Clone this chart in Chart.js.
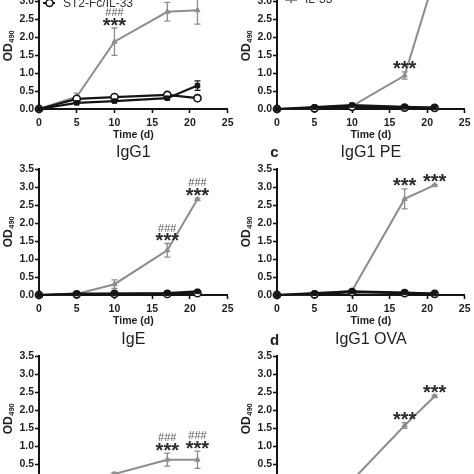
<!DOCTYPE html>
<html><head><meta charset="utf-8">
<script src="https://cdn.jsdelivr.net/npm/chart.js@4.4.1/dist/chart.umd.min.js"></script>
<style>
html,body{margin:0;padding:0;background:#fff;width:474px;height:474px;overflow:hidden;position:relative}
canvas{position:absolute}
</style></head><body>
<script>
// ---------- data ----------
const days = [0, 5, 10, 17, 21];
const xTickValues = [0, 5, 10, 15, 20, 25];
const yTickValues = [0, 0.5, 1, 1.5, 2, 2.5, 3, 3.5];
const xAxisTitle = 'Time (d)';
const yAxisMain = 'OD';
const yAxisSub = '490';
const legendST2 = 'ST2-Fc/IL-33';
const legendIL33 = 'IL-33';

// panel a (top left)
const aIL33 = [0, 0.34, 1.87, 2.70, 2.74];
const aIL33Err = [0, 0.10, 0.38, 0.26, 0.38];
const aCtrl = [0, 0.17, 0.22, 0.30, 0.65];
const aCtrlErr = [0, 0.02, 0.02, 0.03, 0.13];
const aST2 = [0, 0.28, 0.33, 0.39, 0.30];
const aST2Err = [0, 0.03, 0.03, 0.05, 0.02];
// panel b (top right)
const bIL33 = [0, 0.03, 0.08, 0.93, 3.65];
const bIL33Err = [0, 0.01, 0.02, 0.10, 0];
const bCtrl = [0, 0.05, 0.11, 0.06, 0.04];
const bST2 = [0, 0.02, 0.06, 0.04, 0.03];
// IgG1
const g1IL33 = [0, 0.03, 0.30, 1.24, 2.66];
const g1IL33Err = [0, 0.01, 0.12, 0.19, 0.03];
const g1Ctrl = [0, 0.04, 0.04, 0.05, 0.10];
const g1ST2 = [0, 0.02, 0.03, 0.03, 0.05];
// IgG1 PE
const pIL33 = [0, 0.02, 0.12, 2.67, 3.05];
const pIL33Err = [0, 0.01, 0.03, 0.28, 0.02];
const pCtrl = [0, 0.05, 0.10, 0.07, 0.04];
const pST2 = [0, 0.02, 0.08, 0.05, 0.03];
// IgE
const eIL33 = [0, 0.03, 0.22, 0.62, 0.62];
const eIL33Err = [0, 0.01, 0.05, 0.18, 0.24];
const eCtrl = [0, 0.03, 0.04, 0.05, 0.06];
const eST2 = [0, 0.02, 0.03, 0.03, 0.04];
// IgG1 OVA
const oIL33 = [0, 0.02, 0.04, 1.57, 2.38];
const oIL33Err = [0, 0.01, 0.01, 0.08, 0.03];
const oCtrl = [0, 0.03, 0.04, 0.04, 0.05];
const oST2 = [0, 0.02, 0.03, 0.03, 0.04];

// significance marks: day, show ### too
const aNotes = [{day: 10, hash: true}];
const bNotes = [{day: 17, hash: false}];
const g1Notes = [{day: 17, hash: true}, {day: 21, hash: true}];
const pNotes = [{day: 17, hash: false}, {day: 21, hash: false}];
const eNotes = [{day: 17, hash: true}, {day: 21, hash: true}];
const oNotes = [{day: 17, hash: false}, {day: 21, hash: false}];

// ---------- styling ----------
const FONT = "'Liberation Sans', Arial, Helvetica, sans-serif";
const GRAY = '#8d8d8d';
const BLACK = '#141414';
const TXT = '#1e1e1e';

const panels = [
  {left: 0, areaTop: -17, yW: 39, padR: 8, title: null, letter: null,
   il: aIL33, ilErr: aIL33Err, ctrl: aCtrl, ctrlErr: aCtrlErr, st2: aST2, st2Err: aST2Err, notes: aNotes,
   legend: {text: legendST2, kind: 'circle', x: 43, y: 3}},
  {left: 237, areaTop: -17, yW: 40, padR: 7, title: null, letter: null,
   il: bIL33, ilErr: bIL33Err, ctrl: bCtrl, st2: bST2, notes: bNotes,
   legend: {text: legendIL33, kind: 'gray', x: 285, y: 0}},
  {left: 0, areaTop: 169, yW: 39, padR: 8, title: 'IgG1', letter: null,
   il: g1IL33, ilErr: g1IL33Err, ctrl: g1Ctrl, st2: g1ST2, notes: g1Notes},
  {left: 237, areaTop: 169, yW: 40, padR: 7, title: 'IgG1 PE', letter: 'c',
   il: pIL33, ilErr: pIL33Err, ctrl: pCtrl, st2: pST2, notes: pNotes},
  {left: 0, areaTop: 356, yW: 39, padR: 8, title: 'IgE', letter: null,
   il: eIL33, ilErr: eIL33Err, ctrl: eCtrl, st2: eST2, notes: eNotes},
  {left: 237, areaTop: 356, yW: 40, padR: 7, title: 'IgG1 OVA', letter: 'd',
   il: oIL33, ilErr: oIL33Err, ctrl: oCtrl, st2: oST2, notes: oNotes}
];

const TOP_PAD = 29, AREA_H = 126, X_H = 31;
const CW = 237, CH = TOP_PAD + AREA_H + X_H;

function pts(vals){ return days.map((d, i) => ({x: d, y: vals[i]})); }

function centerText(ctx, txt, cx, cy){
  const m = ctx.measureText(txt);
  const base = cy + (m.actualBoundingBoxAscent - m.actualBoundingBoxDescent) / 2;
  ctx.fillText(txt, cx, base);
}

function makeDecor(p){
  return {
    id: 'decor',
    beforeDatasetsDraw(chart){
      const ctx = chart.ctx, xs = chart.scales.x, ys = chart.scales.y;
      ctx.save();
      chart.data.datasets.forEach(ds => {
        if (!ds.errs) return;
        ctx.strokeStyle = ds.borderColor;
        ctx.lineWidth = 1.3;
        days.forEach((d, i) => {
          const e = ds.errs[i];
          if (!e) return;
          const v = ds.data[i].y;
          const px = xs.getPixelForValue(d);
          const t = ys.getPixelForValue(v + e), b = ys.getPixelForValue(v - e);
          ctx.beginPath();
          ctx.moveTo(px, t); ctx.lineTo(px, b);
          ctx.moveTo(px - 3, t); ctx.lineTo(px + 3, t);
          ctx.moveTo(px - 3, b); ctx.lineTo(px + 3, b);
          ctx.stroke();
        });
      });
      ctx.restore();
    },
    afterDraw(chart){
      const ctx = chart.ctx, xs = chart.scales.x, ys = chart.scales.y, a = chart.chartArea;
      ctx.save();
      // significance marks
      p.notes.forEach(n => {
        const i = days.indexOf(n.day);
        const top = p.il[i] + (p.ilErr ? p.ilErr[i] : 0);
        const px = xs.getPixelForValue(n.day);
        const cy = ys.getPixelForValue(top) - 6.5;
        ctx.textAlign = 'center'; ctx.textBaseline = 'alphabetic';
        ctx.fillStyle = '#2a2a2a';
        ctx.font = 'bold 20px ' + FONT;
        centerText(ctx, '***', px, cy);
        if (n.hash){
          ctx.fillStyle = '#5a5a5a';
          ctx.font = '11px ' + FONT;
          centerText(ctx, '###', px, cy - 9.5);
        }
      });
      // panel title
      ctx.fillStyle = TXT;
      ctx.textAlign = 'center';
      if (p.title){
        ctx.font = '16px ' + FONT;
        centerText(ctx, p.title, (a.left + a.right) / 2, a.top - 16.5);
      }
      if (p.letter){
        ctx.font = 'bold 15px ' + FONT;
        centerText(ctx, p.letter, a.left - 2.5, a.top - 16.5);
      }
      // x axis title
      ctx.font = 'bold 10.5px ' + FONT;
      centerText(ctx, xAxisTitle, (a.left + a.right) / 2, a.bottom + 26);
      // y axis title OD490 rotated
      ctx.translate(a.left - 32, (a.top + a.bottom) / 2);
      ctx.rotate(-Math.PI / 2);
      ctx.font = 'bold 12px ' + FONT;
      const w1 = ctx.measureText(yAxisMain).width;
      ctx.font = 'bold 7.5px ' + FONT;
      const w2 = ctx.measureText(yAxisSub).width;
      const start = -(w1 + w2) / 2;
      ctx.textAlign = 'left';
      ctx.font = 'bold 12px ' + FONT;
      ctx.fillText(yAxisMain, start, 4.5);
      ctx.font = 'bold 7.5px ' + FONT;
      ctx.fillText(yAxisSub, start + w1 + 0.5, 7);
      ctx.restore();
      // legend (page coords -> canvas coords)
      if (p.legend){
        const L = p.legend, oy = -(p.areaTop - TOP_PAD), ox = -p.left;
        const lx = L.x + ox, ly = L.y + oy;
        ctx.save();
        if (L.kind === 'circle'){
          ctx.strokeStyle = BLACK; ctx.lineWidth = 2;
          ctx.beginPath(); ctx.moveTo(lx, ly); ctx.lineTo(lx + 12, ly); ctx.stroke();
          ctx.fillStyle = '#fff'; ctx.lineWidth = 1.6;
          ctx.beginPath(); ctx.arc(lx + 6.5, ly, 3.5, 0, Math.PI * 2); ctx.fill(); ctx.stroke();
          ctx.fillStyle = '#333'; ctx.font = '12px ' + FONT; ctx.textAlign = 'left';
          ctx.fillText(L.text, lx + 20, ly + 3.8);
        } else {
          ctx.strokeStyle = GRAY; ctx.lineWidth = 2;
          ctx.beginPath(); ctx.moveTo(lx, ly); ctx.lineTo(lx + 12, ly);
          ctx.moveTo(lx + 6, ly - 4); ctx.lineTo(lx + 6, ly + 3); ctx.stroke();
          ctx.fillStyle = '#333'; ctx.font = '12px ' + FONT; ctx.textAlign = 'left';
          ctx.fillText(L.text, lx + 20, ly + 3);
        }
        ctx.restore();
      }
    }
  };
}

panels.forEach(p => {
  const cv = document.createElement('canvas');
  cv.width = CW; cv.height = CH;
  cv.style.left = p.left + 'px';
  cv.style.top = (p.areaTop - TOP_PAD) + 'px';
  cv.style.width = CW + 'px'; cv.style.height = CH + 'px';
  document.body.appendChild(cv);
  const tickFont = {family: FONT, size: 10.5, weight: 'bold'};
  new Chart(cv.getContext('2d'), {
    type: 'line',
    data: {datasets: [
      {data: pts(p.ctrl), errs: p.ctrlErr, borderColor: BLACK, backgroundColor: BLACK, borderWidth: 2.2,
       pointStyle: 'rect', pointRadius: 3.2, pointBorderWidth: 1, order: 1, clip: false},
      {data: pts(p.st2), errs: p.st2Err, borderColor: BLACK, backgroundColor: '#fff', borderWidth: 2.2,
       pointStyle: 'circle', pointRadius: 3.6, pointBorderWidth: 1.6, order: 2, clip: false},
      {data: pts(p.il), errs: p.ilErr, borderColor: GRAY, backgroundColor: GRAY, borderWidth: 2,
       pointStyle: 'triangle', pointRadius: 3, pointBorderWidth: 1, order: 3, clip: false}
    ]},
    options: {
      responsive: false, animation: false, devicePixelRatio: 1,
      layout: {padding: {left: 0, right: p.padR, top: TOP_PAD, bottom: 0}},
      plugins: {legend: {display: false}, tooltip: {enabled: false}},
      elements: {line: {tension: 0}},
      scales: {
        x: {type: 'linear', min: 0, max: 25,
            afterBuildTicks: s => { s.ticks = xTickValues.map(v => ({value: v})); },
            afterFit: s => { s.height = X_H; },
            ticks: {font: tickFont, color: TXT, padding: 3.5, maxRotation: 0, autoSkip: false},
            grid: {drawOnChartArea: false, tickLength: 4, tickWidth: 1.6, tickColor: BLACK},
            border: {color: BLACK, width: 2}},
        y: {type: 'linear', min: 0, max: 3.5,
            afterBuildTicks: s => { s.ticks = yTickValues.map(v => ({value: v})); },
            afterFit: s => { s.width = p.yW; },
            ticks: {font: tickFont, color: TXT, padding: 1, callback: v => v.toFixed(1)},
            grid: {drawOnChartArea: false, tickLength: 4, tickWidth: 1.6, tickColor: BLACK},
            border: {color: BLACK, width: 2}}
      }
    },
    plugins: [makeDecor(p)]
  });
});
</script>
</body></html>
